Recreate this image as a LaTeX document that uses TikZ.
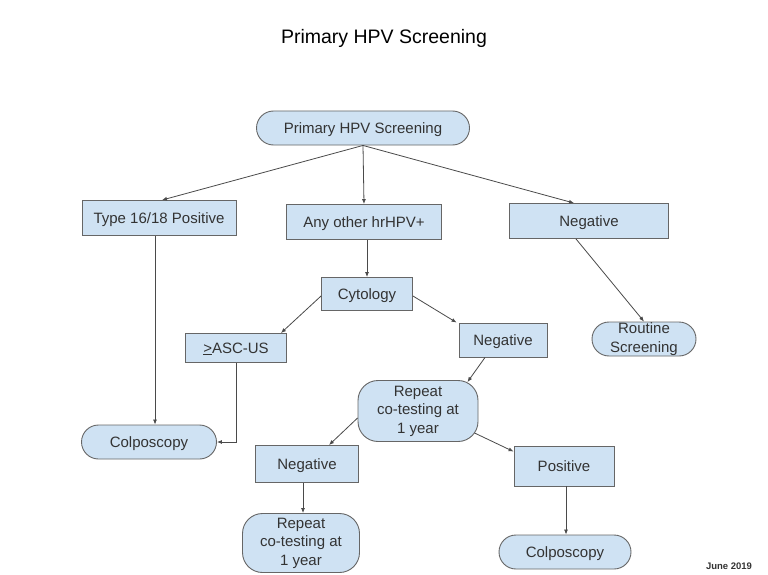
\documentclass[tikz,border=0pt]{standalone}
\usepackage{fontspec}
\setmainfont{Liberation Sans}
\usetikzlibrary{calc,arrows.meta}
\definecolor{boxfill}{HTML}{CFE2F3}
\definecolor{boxline}{HTML}{666666}
\definecolor{txt}{HTML}{333333}
\definecolor{arrcol}{HTML}{4A4A4A}
\begin{document}
\begin{tikzpicture}[x=1pt,y=-1pt,
  box/.style={draw=boxline,line width=0.9pt,fill=boxfill,text=txt,inner sep=0pt,
     font=\fontsize{15}{18.5}\selectfont,align=center},
  one/.style={text height=10.5pt,text depth=0pt},
  pill/.style={box,rounded corners=17pt},
  arr/.style={draw=arrcol,line width=0.8pt,-{Latex[length=5pt,width=4pt]}}]
\useasboundingbox[fill=white] (0,0) rectangle (768,575);
\node[text=black,font=\fontsize{19.5}{21}\selectfont] (title) at (384,38) {Primary HPV Screening};
\node[pill,one,minimum width=213,minimum height=34] (top) at (363,128) {Primary HPV Screening};
\node[box,one,minimum width=154,minimum height=35] (t16) at (159,218) {Type 16/18 Positive};
\node[box,one,minimum width=155,minimum height=35] (any) at (364,222) {Any other hrHPV+};
\node[box,one,minimum width=159,minimum height=35] (negt) at (589,221) {Negative};
\node[box,one,minimum width=91,minimum height=33] (cyt) at (367,294) {Cytology};
\node[box,one,minimum width=101,minimum height=29] (asc) at (236,348) {\underline{>}ASC-US};
\node[box,one,minimum width=88,minimum height=34] (negm) at (503,340) {Negative};
\node[pill,minimum width=104,minimum height=34] (rout) at (644,339) {Routine\\Screening};
\node[pill,rounded corners=20pt,minimum width=120,minimum height=61] (rep1) at (418,411) {Repeat\\co-testing at\\1 year};
\node[pill,one,minimum width=135,minimum height=34] (colL) at (149,442) {Colposcopy};
\node[box,one,minimum width=103,minimum height=37] (negl) at (307,464) {Negative};
\node[box,one,minimum width=100,minimum height=40] (pos) at (564,466) {Positive};
\node[pill,rounded corners=20pt,minimum width=117,minimum height=59] (rep2) at (301,543) {Repeat\\co-testing at\\1 year};
\node[pill,one,minimum width=132,minimum height=34] (colB) at (565,552) {Colposcopy};
\node[text=txt,font=\bfseries\fontsize{9.5}{10}\selectfont] (date) at (729,566) {June 2019};
% helper coordinates for vertical connectors
\coordinate (a1) at ($(t16.south)+(-4,0)$);
\coordinate (a2) at (a1 |- colL.north);
\coordinate (b1) at ($(negl.south)+(-4,0)$);
\coordinate (b2) at (b1 |- rep2.north);
\coordinate (c1) at ($(pos.south)+(2,0)$);
\coordinate (c2) at (c1 |- colB.north);
\coordinate (d1) at (cyt.north |- any.south);
\coordinate (e1) at (asc.south |- colL.east);
% connectors
\draw[arr] (top.south) -- ($(t16.north)+(3,0)$);
\draw[arr] (top.south) -- (any.north);
\draw[arr] (top.south) -- ($(negt.north)+(-15,0)$);
\draw[arr] (a1) -- (a2);
\draw[arr] (d1) -- (cyt.north);
\draw[arr] ($(cyt.west)+(0,2)$) -- ($(asc.north east)+(-6,0)$);
\draw[arr] ($(cyt.east)+(0,2)$) -- ($(negm.north west)+(-2,0)$);
\draw[arr] (asc.south) -- (e1) -- (colL.east);
\draw[arr] ($(negt.south)+(-13,0)$) -- (rout.north);
\draw[arr] ($(negm.south)+(-18,0)$) -- ($(rep1.north east)+(-11,2)$);
\draw[arr] ($(rep1.west)+(0,7)$) -- ($(negl.north)+(22,0)$);
\draw[arr] ($(rep1.south east)+(-4,-9)$) -- ($(pos.north west)+(0,6)$);
\draw[arr] (b1) -- (b2);
\draw[arr] (c1) -- (c2);
\end{tikzpicture}
\end{document}
